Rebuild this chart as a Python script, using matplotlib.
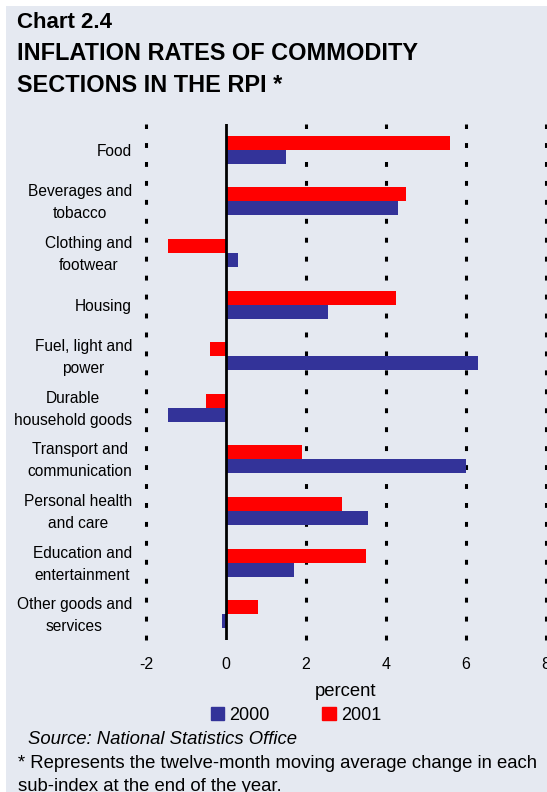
import matplotlib
matplotlib.use("Agg")
import matplotlib.pyplot as plt
import matplotlib.transforms as mtransforms
from matplotlib.patches import Patch, Rectangle

# Datos (porcentaje)
categorias = ["Food", "Beverages and\ntobacco", "Clothing and\nfootwear", "Housing",
              "Fuel, light and\npower", "Durable\nhousehold goods",
              "Transport and\ncommunication", "Personal health\nand care",
              "Education and\nentertainment", "Other goods and\nservices"]
valores_2000 = [1.5, 4.3, 0.3, 2.55, 6.3, -1.45, 6.0, 3.55, 1.7, -0.1]
valores_2001 = [5.6, 4.5, -1.45, 4.25, -0.4, -0.5, 1.9, 2.9, 3.5, 0.8]
ticks_x = [-2, 0, 2, 4, 6, 8]
lineas_grid = [-2, 2, 4, 6, 8]

fondo = "#E5E9F1"
azul = "#333399"
rojo = "#FF0000"
fuente = "Liberation Sans"

W, H = 547, 792
fig = plt.figure(figsize=(W / 100, H / 100), dpi=100, facecolor="white")
fig.patches.append(Rectangle((6 / W, 0), 1, 1 - 6 / H, transform=fig.transFigure,
                             facecolor=fondo, edgecolor="none", zorder=-10))

def fy(py):
    return 1 - py / H

# Ejes en coordenadas de píxel
ax = fig.add_axes([146 / W, fy(640), 400 / W, 516 / H])
ax.set_facecolor("none")

pos = list(range(len(categorias)))
alto = 0.27
ax.barh([p - alto / 2 for p in pos], valores_2001, height=alto, color=rojo, zorder=3)
ax.barh([p + alto / 2 for p in pos], valores_2000, height=alto, color=azul, zorder=3)

for x in lineas_grid:
    ax.axvline(x, color="black", lw=2.2, dashes=(1.6, 4.6), zorder=1, clip_on=False)
ax.axvline(0, color="black", lw=2.0, zorder=4)

ax.set_xlim(-2, 8)
ax.set_ylim(len(categorias) - 0.5, -0.5)
ax.set_xticks(ticks_x)
ax.set_xticklabels([str(t) for t in ticks_x], family=fuente, fontsize=11.5)
ax.set_yticks(pos)
ax.set_yticklabels(categorias, family=fuente, fontsize=11.2, multialignment="center",
                   linespacing=1.58)
ax.tick_params(axis="y", length=0, pad=10)
ax.tick_params(axis="x", length=0, pad=12)
for s in ax.spines.values():
    s.set_visible(False)

# Subir un poco las etiquetas de dos líneas
subir = mtransforms.ScaledTranslation(0, 3.5 / 100, fig.dpi_scale_trans)
for etiqueta in ax.get_yticklabels():
    if "\n" in etiqueta.get_text():
        etiqueta.set_transform(etiqueta.get_transform() + subir)

# Títulos
fig.text(17 / W, fy(27.5), "Chart 2.4", family=fuente, fontweight="bold", fontsize=16, va="baseline")
fig.text(17 / W, fy(59.5), "INFLATION RATES OF COMMODITY", family=fuente, fontweight="bold",
         fontsize=16.9, va="baseline")
fig.text(17 / W, fy(91.5), "SECTIONS IN THE RPI *", family=fuente, fontweight="bold",
         fontsize=16.9, va="baseline")

fig.text(346 / W, fy(696), "percent", family=fuente, fontsize=13.3, ha="center", va="baseline")

manejadores = [Patch(color=azul, label="2000"), Patch(color=rojo, label="2001")]
fig.legend(handles=manejadores, loc="center", bbox_to_anchor=(296 / W, fy(715)), ncol=2,
           frameon=False, prop={"family": fuente, "size": 13}, handlelength=0.75,
           handleheight=0.75, handletextpad=0.3, columnspacing=2.9, borderpad=0)

fig.text(28 / W, fy(744), "Source: National Statistics Office", family=fuente, style="italic",
         fontsize=13.3, va="baseline")
fig.text(18 / W, fy(768), "* Represents the twelve-month moving average change in each",
         family=fuente, fontsize=13.3, va="baseline")
fig.text(18 / W, fy(791), "sub-index at the end of the year.", family=fuente, fontsize=13.3,
         va="baseline")

fig.savefig("out.png", dpi=100, facecolor=fig.get_facecolor())
